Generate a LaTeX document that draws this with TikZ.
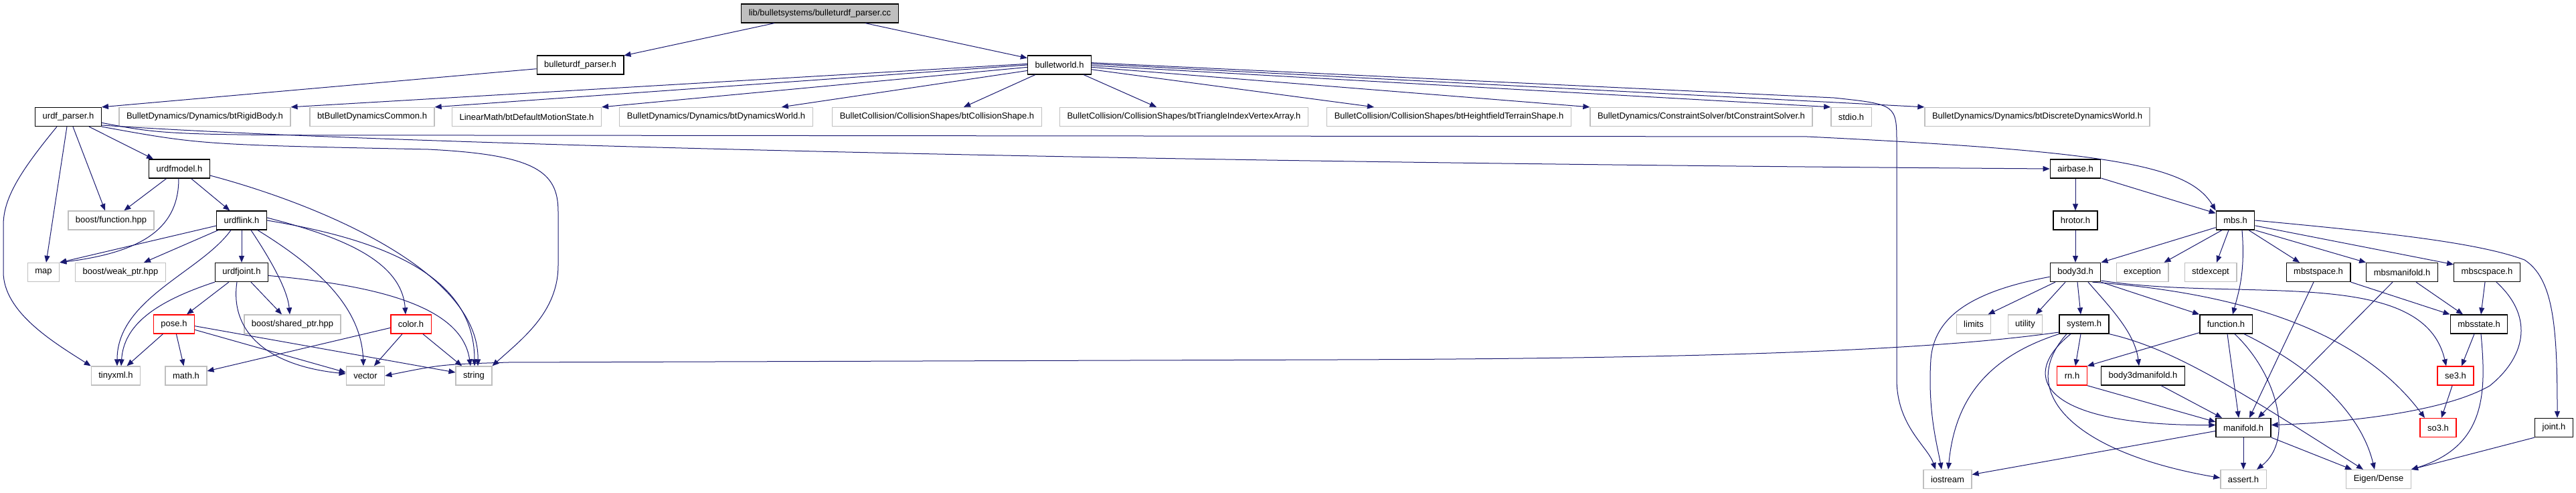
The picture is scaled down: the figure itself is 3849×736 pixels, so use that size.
\documentclass[tikz,border=0pt]{standalone}
\usepackage{fontspec}
\setmainfont{Liberation Sans}
\usetikzlibrary{arrows.meta}
\definecolor{extgray}{HTML}{BFBFBF}
\definecolor{truncred}{HTML}{FF0000}
\definecolor{incblue}{HTML}{191970}
\begin{document}
\begin{tikzpicture}[x=1bp,y=1bp,
  hdr/.style={draw=#1,line width=1.3bp,fill=white,minimum height=28bp,
    inner xsep=11bp,inner ysep=0pt,font=\fontsize{13bp}{15bp}\selectfont},
  doc/.style={hdr=black},
  ext/.style={hdr=extgray},
  trunc/.style={hdr=truncred},
  src/.style={hdr=black,fill=extgray},
  inc/.style={draw=incblue,line width=1bp,-{Triangle[length=10bp,width=8bp]}},
]
  \path[use as bounding box,fill=white] (0,0) rectangle (3849,736);

  \node[src] (root) at (1225,716) {lib/bulletsystems/bulleturdf\_parser.cc};

  \node[doc] (bulleturdfh) at (867,639) {bulleturdf\_parser.h};
  \node[doc] (bulletworld) at (1583,639) {bulletworld.h};

  \node[doc] (urdfparser) at (102,561.5) {urdf\_parser.h};
  \node[ext] (rigidbody) at (306,561.5) {BulletDynamics/Dynamics/btRigidBody.h};
  \node[ext] (btcommon) at (556,561.5) {btBulletDynamicsCommon.h};
  \node[ext] (motionstate) at (787,561.5) {LinearMath/btDefaultMotionState.h};
  \node[ext] (dynworld) at (1070,561.5) {BulletDynamics/Dynamics/btDynamicsWorld.h};
  \node[ext] (collshape) at (1400,561.5) {BulletCollision/CollisionShapes/btCollisionShape.h};
  \node[ext] (trimesh) at (1769,561.5) {BulletCollision/CollisionShapes/btTriangleIndexVertexArray.h};
  \node[ext] (heightfield) at (2165,561.5) {BulletCollision/CollisionShapes/btHeightfieldTerrainShape.h};
  \node[ext] (constraint) at (2542,561.5) {BulletDynamics/ConstraintSolver/btConstraintSolver.h};
  \node[ext] (stdio) at (2766,561.5) {stdio.h};
  \node[ext] (discrete) at (3044,561.5) {BulletDynamics/Dynamics/btDiscreteDynamicsWorld.h};

  \node[doc] (urdfmodel) at (268,484) {urdfmodel.h};
  \node[doc] (airbase) at (3101,484) {airbase.h};

  \node[ext] (functionhpp) at (166,407) {boost/function.hpp};
  \node[doc] (urdflink) at (361,407) {urdflink.h};
  \node[doc] (hrotor) at (3101,407) {hrotor.h};
  \node[doc] (mbs) at (3340,407) {mbs.h};

  \node[ext] (map) at (65,329.5) {map};
  \node[ext] (weakptr) at (180,329.5) {boost/weak\_ptr.hpp};
  \node[doc] (urdfjoint) at (361,329.5) {urdfjoint.h};
  \node[doc] (body3d) at (3101,329.5) {body3d.h};
  \node[ext] (exception) at (3201,329.5) {exception};
  \node[ext] (stdexcept) at (3303,329.5) {stdexcept};
  \node[doc] (mbstspace) at (3464,329.5) {mbstspace.h};
  \node[doc] (mbsmanifold) at (3589,329.5) {mbsmanifold.h};
  \node[doc] (mbscspace) at (3716,329.5) {mbscspace.h};

  \node[trunc] (pose) at (260,252) {pose.h};
  \node[ext] (sharedptr) at (437,252) {boost/shared\_ptr.hpp};
  \node[trunc] (color) at (614,252) {color.h};
  \node[ext] (limits) at (2949,252) {limits};
  \node[ext] (utility) at (3026,252) {utility};
  \node[doc] (system) at (3114,252) {system.h};
  \node[doc] (functionh) at (3326,252) {function.h};
  \node[doc] (mbsstate) at (3704,252) {mbsstate.h};

  \node[ext] (tinyxml) at (173,175) {tinyxml.h};
  \node[ext] (mathh) at (278,175) {math.h};
  \node[ext] (vector) at (546,175) {vector};
  \node[ext] (string) at (708,175) {string};
  \node[trunc] (mh) at (3096,175) {rn.h};
  \node[doc] (body3dmanifold) at (3202,175) {body3dmanifold.h};
  \node[trunc] (se3) at (3669,175) {se3.h};

  \node[doc] (manifold) at (3352,97.5) {manifold.h};
  \node[trunc] (so3) at (3643,97.5) {so3.h};
  \node[doc] (joint) at (3816,97.5) {joint.h};

  \node[ext] (iostream) at (2910,20.5) {iostream};
  \node[ext] (assert) at (3352,20.5) {assert.h};
  \node[ext] (eigen) at (3554,20.5) {Eigen/Dense};

  \draw[inc] (root) -- (bulleturdfh);
  \draw[inc] (root) -- (bulletworld);
  \draw[inc] (bulleturdfh) -- (urdfparser.north east);

  \draw[inc] (bulletworld.178) -- (rigidbody.north east);
  \draw[inc] (bulletworld.180) -- (btcommon.north east);
  \draw[inc] (bulletworld.184) -- (motionstate.north east);
  \draw[inc] (bulletworld.190) -- ([xshift=-47bp]dynworld.north east);
  \draw[inc] (bulletworld.202) -- ([xshift=40bp]collshape.north);
  \draw[inc] (bulletworld.338) -- ([xshift=-41bp]trimesh.north);
  \draw[inc] (bulletworld.-8) -- ([xshift=-112bp]heightfield.north);
  \draw[inc] (bulletworld.-4) -- (constraint.north west);
  \draw[inc] (bulletworld.-1) -- (stdio.north west);
  \draw[inc] (bulletworld.2) -- (discrete.north west);
  \draw[inc] (bulletworld.4) -- (2740,590) .. controls (2834,580) .. (2834,520) -- (2834,170)
    .. controls (2834,100) and (2880,70) .. ([xshift=-18bp]iostream.north);

  \draw[inc] ([xshift=-17bp]urdfparser.south) .. controls (30,480) and (5,440) .. (5,400) -- (5,330)
    .. controls (5,270) and (80,225) .. (tinyxml.north west);
  \draw[inc] ([xshift=-2bp]urdfparser.south) -- ([xshift=4bp]map.north);
  \draw[inc] ([xshift=7bp]urdfparser.south) -- ([xshift=-9bp]functionhpp.north);
  \draw[inc] ([xshift=31bp]urdfparser.south) -- ([xshift=7bp]urdfmodel.north west);
  \draw[inc] (urdfparser.south east) .. controls (300,520) .. (640,513) .. controls (800,505) and (834,480) .. (834,420)
    -- (834,340) .. controls (834,270) and (780,230) .. (string.north east);
  \draw[inc] (urdfparser.-14) .. controls (500,525) and (1500,495) .. (airbase.west);
  \draw[inc] (urdfparser.-10) .. controls (250,534) .. (700,534) -- (2700,532)
    .. controls (3150,510) and (3270,490) .. (mbs.north west);

  \draw[inc] (urdfmodel) -- (functionhpp);
  \draw[inc] ([xshift=-1bp]urdfmodel.south) .. controls (267,400) and (220,360) .. (map.north east);
  \draw[inc] (urdfmodel) -- (urdflink);
  \draw[inc] ([yshift=-10bp]urdfmodel.east) .. controls (480,430) and (716,330) .. ([xshift=6bp]string.north);

  \draw[inc] (urdflink.192) -- (map.north east);
  \draw[inc] ([xshift=3bp]urdflink.south west) -- ([xshift=35bp]weakptr.north);
  \draw[inc] ([xshift=-16bp]urdflink.south) .. controls (300,330) and (175,290) .. ([xshift=2bp]tinyxml.north);
  \draw[inc] (urdflink) -- (urdfjoint);
  \draw[inc] ([xshift=14bp]urdflink.south) .. controls (410,340) and (430,300) .. ([xshift=-4bp]sharedptr.north);
  \draw[inc] ([xshift=24bp]urdflink.south) .. controls (470,340) and (540,280) .. ([xshift=-3bp]vector.north);
  \draw[inc] ([yshift=4bp]urdflink.east) .. controls (500,385) and (600,350) .. ([xshift=-8bp]color.north);
  \draw[inc] (urdflink.east) .. controls (560,380) and (709,330) .. ([xshift=1bp]string.north);

  \draw[inc] (urdfjoint.south west) .. controls (230,285) and (185,250) .. ([xshift=8bp]tinyxml.north);
  \draw[inc] (urdfjoint) -- (pose);
  \draw[inc] ([xshift=-7bp]urdfjoint.south) .. controls (343,240) and (400,190) .. ([yshift=3bp]vector.west);
  \draw[inc] ([xshift=14bp]urdfjoint.south) -- ([xshift=-16bp]sharedptr.north);
  \draw[inc] (urdfjoint.-7) .. controls (560,310) and (690,280) .. ([xshift=-5bp]string.north);

  \draw[inc] (pose) -- (tinyxml);
  \draw[inc] (pose) -- (mathh);
  \draw[inc] (pose.-15) -- ([yshift=5bp]vector.west);
  \draw[inc] (pose.-5) -- ([yshift=5bp]string.west);

  \draw[inc] (color.190) -- ([yshift=7bp]mathh.east);
  \draw[inc] (color) -- (vector);
  \draw[inc] (color) -- (string);

  \draw[inc] ([yshift=-12bp]system.west) .. controls (2900,215) and (2600,201) .. (2000,199) -- (760,195)
    .. controls (660,192) .. (vector.east);

  \draw[inc] (airbase) -- (hrotor);
  \draw[inc] (airbase.-20) -- ([yshift=-4bp]mbs.north west);
  \draw[inc] (hrotor) -- (body3d);

  \draw[inc] (mbs.200) -- (body3d.north east);
  \draw[inc] ([xshift=-20bp]mbs.south) -- ([xshift=-7bp]exception.north east);
  \draw[inc] ([xshift=-10bp]mbs.south) -- ([xshift=9bp]stdexcept.north);
  \draw[inc] ([xshift=10bp]mbs.south) .. controls (3355,330) and (3345,300) .. ([xshift=10bp]functionh.north);
  \draw[inc] ([xshift=20bp]mbs.south) -- ([xshift=-28bp]mbstspace.north);
  \draw[inc] (mbs.south east) -- (mbsmanifold.north west);
  \draw[inc] (mbs.-15) -- ([yshift=-3bp]mbscspace.north west);
  \draw[inc] (mbs.east) .. controls (3550,390) and (3700,375) .. (3772,348)
    .. controls (3815,320) and (3821,250) .. ([xshift=5bp]joint.north);

  \draw[inc] (body3d.190) .. controls (2940,300) and (2890,260) .. (2885,200)
    .. controls (2880,120) and (2895,70) .. ([xshift=-9bp]iostream.north);
  \draw[inc] ([xshift=-30bp]body3d.south) -- ([xshift=-5bp]limits.north east);
  \draw[inc] ([xshift=-15bp]body3d.south) -- ([xshift=16bp]utility.north);
  \draw[inc] ([xshift=3bp]body3d.south) -- ([xshift=-5bp]system.north);
  \draw[inc] ([xshift=19bp]body3d.south) .. controls (3150,280) and (3190,240) .. ([xshift=-6bp]body3dmanifold.north);
  \draw[inc] (body3d.south east) -- (functionh.north west);
  \draw[inc] (body3d.-18) .. controls (3350,285) and (3620,340) .. ([xshift=-14bp]se3.north);
  \draw[inc] (body3d.-30) .. controls (3330,300) and (3520,250) .. ([xshift=-20bp]so3.north);

  \draw[inc] (system.south west) .. controls (2960,200) and (2920,130) .. ([xshift=1bp]iostream.north);
  \draw[inc] ([xshift=-5bp]system.south) -- ([xshift=5bp]mh.north);
  \draw[inc] ([xshift=-20bp]system.south) .. controls (3010,170) and (3060,100) .. ([yshift=4bp]manifold.west);
  \draw[inc] ([xshift=-26bp]system.south) .. controls (3010,150) and (3100,60) .. ([yshift=2bp]assert.west);
  \draw[inc] (system.south east) .. controls (3250,215) and (3350,150) .. ([xshift=-23bp]eigen.north);

  \draw[inc] ([yshift=2bp]functionh.south west) -- (mh.north east);
  \draw[inc] ([xshift=2bp]functionh.south) -- ([xshift=-7bp]manifold.north);
  \draw[inc] ([xshift=13bp]functionh.south) .. controls (3400,180) and (3430,80) .. ([xshift=20bp]assert.north);
  \draw[inc] ([xshift=27bp]functionh.south) .. controls (3470,180) and (3530,110) .. ([xshift=-6bp]eigen.north);

  \draw[inc] (mh.south east) -- ([yshift=-6bp]manifold.north west);
  \draw[inc] ([xshift=27bp]body3dmanifold.south) -- ([xshift=-32bp]manifold.north);

  \draw[inc] ([xshift=-7bp]mbstspace.south) -- ([xshift=9bp]manifold.north);
  \draw[inc] (mbstspace.south east) -- (mbsstate.north west);
  \draw[inc] ([xshift=-14bp]mbsmanifold.south) -- ([xshift=22bp]manifold.north);
  \draw[inc] ([xshift=21bp]mbsmanifold.south) -- ([xshift=-24bp]mbsstate.north);
  \draw[inc] ([xshift=-3bp]mbscspace.south) -- ([xshift=3bp]mbsstate.north);
  \draw[inc] ([xshift=14bp]mbscspace.south) .. controls (3790,260) and (3770,200) .. (3720,160)
    .. controls (3650,120) and (3500,105) .. ([yshift=4bp]manifold.east);
  \draw[inc] ([xshift=-7bp]mbsstate.south) -- ([xshift=9bp]se3.north);
  \draw[inc] ([xshift=3bp]mbsstate.south) .. controls (3715,150) and (3715,70) .. (eigen.north east);
  \draw[inc] (se3) -- (so3);

  \draw[inc] (manifold) -- (assert);
  \draw[inc] (manifold.south east) -- ([xshift=-40bp]eigen.north);
  \draw[inc] ([yshift=-5bp]manifold.west) -- ([yshift=7bp]iostream.east);
  \draw[inc] (joint.south west) -- (eigen.north east);
\end{tikzpicture}
\end{document}
